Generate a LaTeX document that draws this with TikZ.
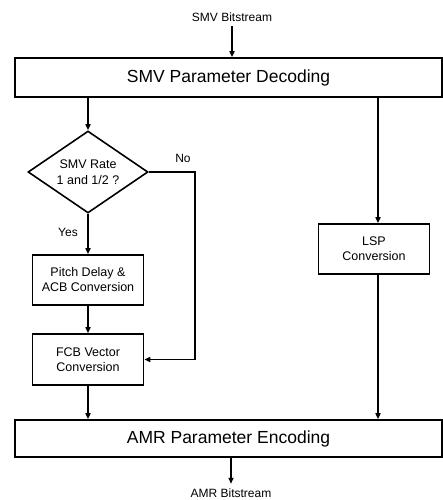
\documentclass[tikz,border=0pt]{standalone}
\usepackage{fontspec}
\setmainfont{Liberation Sans}
\usetikzlibrary{arrows.meta,shapes.geometric}
\begin{document}
\begin{tikzpicture}[x=1pt,y=-1pt,
  line width=1.6pt,
  arr/.style={-{Triangle[length=6pt,width=5pt]}},
  widebox/.style={draw,rectangle,minimum width=427pt,inner sep=0pt,font=\fontsize{17.5}{20}\selectfont},
  smallbox/.style={draw,rectangle,minimum width=111pt,minimum height=50pt,inner sep=0pt,align=center,font=\fontsize{12.5}{15}\selectfont},
  decide/.style={draw,diamond,aspect=1.5,minimum width=120pt,minimum height=82pt,inner sep=0pt,align=center,font=\fontsize{12.5}{16}\selectfont},
  lbl/.style={inner sep=0pt,font=\fontsize{12}{14}\selectfont}]
\useasboundingbox (0,0) rectangle (443,500);

% stream labels
\node[lbl] (smvbs) at (232,17) {SMV Bitstream};
\node[lbl] (amrbs) at (231,493) {AMR Bitstream};

% main stages
\node[widebox,minimum height=39pt] (smv) at (228.5,77.5) {SMV Parameter Decoding};
\node[widebox,minimum height=37pt] (amr) at (228.5,438.5) {AMR Parameter Encoding};

% left branch
\node[decide] (rate) at (88,172) {SMV Rate\\1 and 1/2 ?};
\node[smallbox] (pitch) at (88,280) {Pitch Delay \&\\ACB Conversion};
\node[smallbox,minimum height=51pt] (fcb) at (88,359.5) {FCB Vector\\Conversion};

% right branch
\node[smallbox] (lsp) at (374,249) {LSP\\Conversion};
\coordinate (rx) at (378,0);
\coordinate (nox) at (195,0);

% branch labels
\node[lbl] (yes) at (68,232) {Yes};
\node[lbl] (no) at (183,158) {No};

% connectors
\draw[arr] ([yshift=-4pt]smvbs.south) -- (smvbs.south |- smv.north);
\draw[arr] (smv.south -| rate.north) -- (rate.north);
\draw[arr] (rate.south) -- (pitch.north);
\draw[arr] (pitch.south) -- (fcb.north);
\draw[arr] (rate.east) -- (rate.east -| nox) |- (fcb.east);
\draw[arr] (fcb.south) -- (fcb.south |- amr.north);
\draw[arr] (smv.south -| rx) -- (lsp.north -| rx);
\draw[arr] (lsp.south -| rx) -- (amr.north -| rx);
\draw[arr] (amr.south -| amrbs.north) -- ([yshift=4pt]amrbs.north);
\end{tikzpicture}
\end{document}
